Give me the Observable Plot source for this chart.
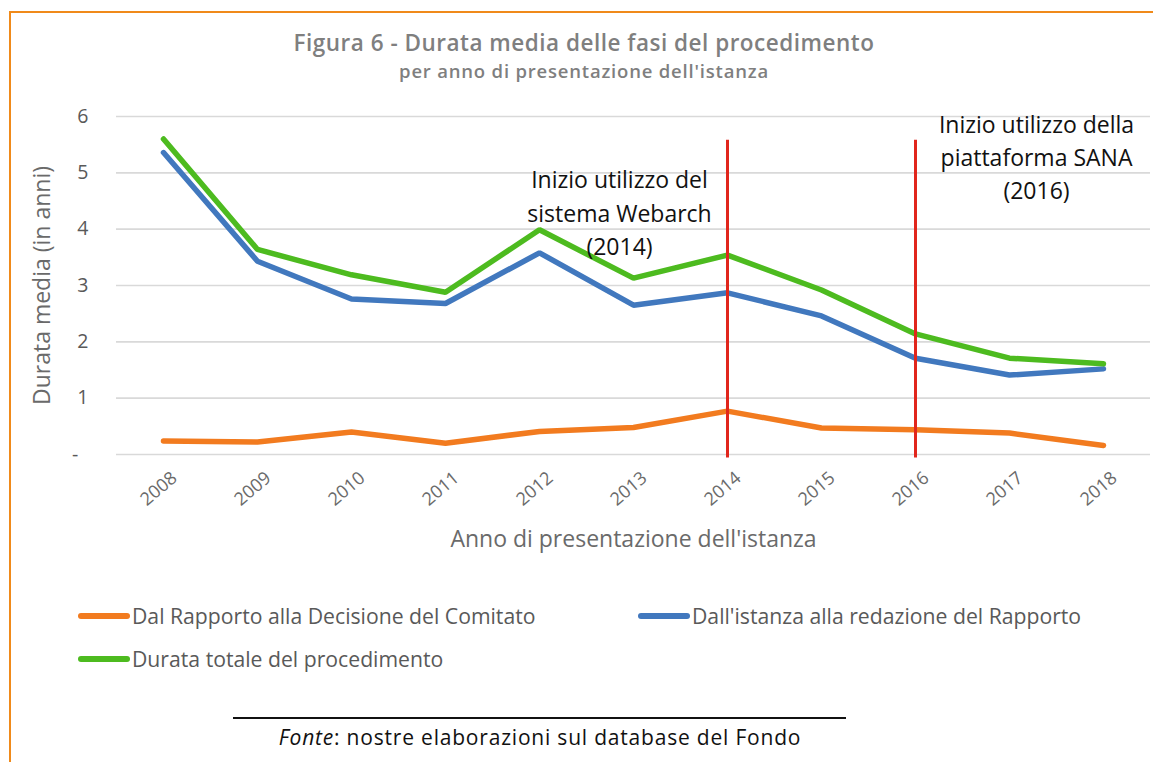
<!DOCTYPE html>
<html>
<head>
<meta charset="utf-8">
<script src="https://cdn.jsdelivr.net/npm/d3@7"></script>
<script src="https://cdn.jsdelivr.net/npm/@observablehq/plot@0.6"></script>
<style>
  body { margin: 0; background: #fff; }
  #wrap { position: relative; width: 1153px; height: 762px; overflow: hidden; font-family: "Open Sans", sans-serif; }
  .frameTop { position: absolute; left: 9px; top: 11px; width: 1144px; height: 2px; background: #F08A1A; }
  .frameLeft { position: absolute; left: 9px; top: 11px; width: 2px; height: 751px; background: #F08A1A; }
  .title { position: absolute; left: 0; width: 1168px; text-align: center; color: #7f7f7f; font-family: "Open Sans", sans-serif; font-weight: 600; }
  #chart { position: absolute; left: 0; top: 95px; }
  .leg { position: absolute; display: flex; align-items: center; color: #595959; font-size: 21.2px; font-family: "Open Sans", sans-serif; }
  .sw { width: 52px; height: 6px; border-radius: 3px; margin-right: 2px; }
  .rule { position: absolute; left: 233px; top: 717px; width: 613px; height: 2px; background: #111; }
  .foot { position: absolute; left: 0; width: 1080px; top: 723px; text-align: center; font-family: "Open Sans", sans-serif; font-size: 21px; letter-spacing: 0.8px; color: #111; }
</style>
</head>
<body>
<div id="wrap">
  <div class="frameTop"></div>
  <div class="frameLeft"></div>
  <div class="title" style="top:27px;font-size:22.5px;letter-spacing:0.5px;">Figura 6 - Durata media delle fasi del procedimento</div>
  <div class="title" style="top:58px;font-size:18.5px;letter-spacing:0.8px;">per anno di presentazione dell'istanza</div>
  <div id="chart"></div>
  <div class="leg" style="left:78px;top:601px;"><div class="sw" id="sw0"></div><span id="lg0"></span></div>
  <div class="leg" style="left:638px;top:601px;"><div class="sw" id="sw1"></div><span id="lg1"></span></div>
  <div class="leg" style="left:78px;top:644px;"><div class="sw" id="sw2"></div><span id="lg2"></span></div>
  <div class="rule"></div>
  <div class="foot"><i>Fonte</i>: nostre elaborazioni sul database del Fondo</div>
</div>
<script>
const years = ["2008","2009","2010","2011","2012","2013","2014","2015","2016","2017","2018"];
const seriesNames = [
  "Dal Rapporto alla Decisione del Comitato",
  "Dall'istanza alla redazione del Rapporto",
  "Durata totale del procedimento"
];
const seriesColors = ["#F27B1F", "#4178BE", "#4DBB1F"];
const rapportoDecisione = [0.24, 0.22, 0.40, 0.20, 0.41, 0.48, 0.77, 0.47, 0.44, 0.38, 0.16];
const istanzaRapporto   = [5.36, 3.43, 2.76, 2.68, 3.58, 2.65, 2.87, 2.46, 1.71, 1.41, 1.52];
const durataTotale      = [5.60, 3.64, 3.19, 2.88, 3.99, 3.13, 3.54, 2.92, 2.14, 1.71, 1.61];
const yTicks = [0, 1, 2, 3, 4, 5, 6];
const markerYears = ["2014", "2016"];
const annotWebarch = {year: "2013", y: 4.32, text: "Inizio utilizzo del\nsistema Webarch\n(2014)"};
const annotSana    = {year: "2017", y: 5.31, text: "Inizio utilizzo della\npiattaforma SANA\n(2016)"};
const yLabel = "Durata media (in anni)";
const xLabel = "Anno di presentazione dell'istanza";

const allSeries = [rapportoDecisione, istanzaRapporto, durataTotale];
const rows = [];
allSeries.forEach((vals, s) => vals.forEach((v, i) => rows.push({year: years[i], value: v, series: seriesNames[s]})));

seriesNames.forEach((n, i) => {
  document.getElementById("lg" + i).textContent = n;
  document.getElementById("sw" + i).style.background = seriesColors[i];
});

const annotStyle = {x: "year", y: "y", text: "text", fontSize: 23, fill: "#111", lineHeight: 1.45, lineAnchor: "middle"};

const chart = Plot.plot({
  width: 1153,
  height: 480,
  marginLeft: 116,
  marginRight: 3,
  marginTop: 21,
  marginBottom: 121,
  style: {fontFamily: "'Open Sans', sans-serif", background: "transparent", overflow: "visible"},
  x: {type: "point", domain: years, padding: 0.5},
  y: {domain: [0, 6], ticks: yTicks},
  color: {domain: seriesNames, range: seriesColors},
  marks: [
    Plot.gridY(yTicks, {stroke: "#d9d9d9", strokeOpacity: 1, strokeWidth: 1.6}),
    Plot.axisY(yTicks, {tickSize: 0, tickPadding: 28, fontSize: 19.5, fill: "#595959", label: null,
      tickFormat: d => d === 0 ? "-\u00a0\u00a0" : String(d)}),
    Plot.axisX({tickSize: 0, tickPadding: 21, tickRotate: -40, fontSize: 18, fill: "#6a6a6a", dx: 11, label: null}),
    Plot.text([yLabel], {frameAnchor: "left", textAnchor: "middle", dx: -74, rotate: -90, fontSize: 23, fill: "#6a6a6a", text: d => d}),
    Plot.text([xLabel], {frameAnchor: "bottom", dy: 92, fontSize: 23, fill: "#6a6a6a", text: d => d}),
    Plot.line(rows, {x: "year", y: "value", z: "series", stroke: "series", strokeWidth: 5.5, strokeLinecap: "round", strokeLinejoin: "miter"}),
    Plot.ruleX(markerYears, {x: d => d, y1: -0.06, y2: 5.58, stroke: "#E1261C", strokeWidth: 3}),
    Plot.text([annotWebarch], {...annotStyle, dx: -14}),
    Plot.text([annotSana], {...annotStyle, dx: 27})
  ]
});
document.getElementById("chart").appendChild(chart);
</script>
</body>
</html>
